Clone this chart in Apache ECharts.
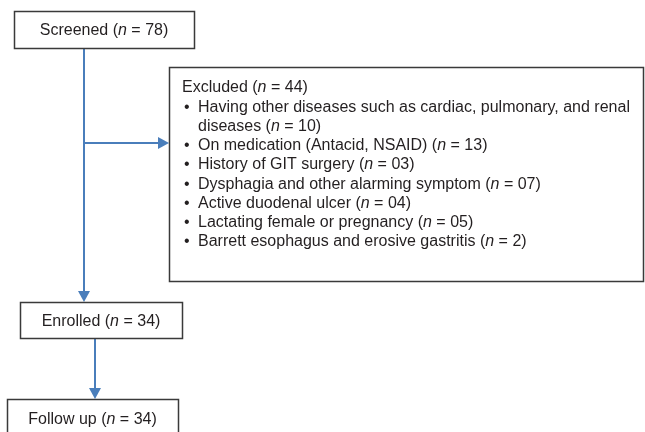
<!DOCTYPE html>
<html lang="en">
<head>
    <meta charset="UTF-8">
    <title>Flow diagram</title>
    <script src="https://cdn.jsdelivr.net/npm/echarts@6/dist/echarts.min.js"></script>
    <style>
        html, body { margin: 0; padding: 0; background: #fff; }
        #main { width: 645px; height: 432px; }
    </style>
</head>
<body>
<div id="main"></div>
<script>
    // flow stages and their counts
    var stages = ['Screened', 'Enrolled', 'Follow up'];
    var stageCounts = ['78', '34', '34'];

    // exclusion box
    var excludedTitle = 'Excluded';
    var excludedCount = '44';
    var reasons = [
        'Having other diseases such as cardiac, pulmonary, and renal\ndiseases',
        'On medication (Antacid, NSAID)',
        'History of GIT surgery',
        'Dysphagia and other alarming symptom',
        'Active duodenal ulcer',
        'Lactating female or pregnancy',
        'Barrett esophagus and erosive gastritis'
    ];
    var reasonCounts = ['10', '13', '03', '07', '04', '05', '2'];

    // layout (pixels)
    var stageBoxes = [
        {x: 14, y: 11, w: 180, h: 37},
        {x: 20, y: 302, w: 162, h: 36},
        {x: 7, y: 399, w: 171, h: 40}
    ];
    var exBox = {x: 169, y: 67, w: 474, h: 214};
    var lineH = 19.25;
    var fontSize = 16;
    var textColor = '#231f20';
    var boxColor = '#3a3a3a';
    var arrowColor = '#4a7ebb';
    var fontFamily = 'Liberation Sans, Arial, sans-serif';

    var rich = {
        i: {fontStyle: 'italic', fontSize: fontSize, fontFamily: fontFamily, fill: textColor, lineHeight: lineH}
    };

    function countText(label, n) {
        return label + ' ({i|n} = ' + n + ')';
    }

    function box(b) {
        return {
            type: 'rect',
            shape: {x: b.x + 0.5, y: b.y + 0.5, width: b.w, height: b.h},
            style: {fill: '#fff', stroke: boxColor, lineWidth: 1.5}
        };
    }

    function line(x1, y1, x2, y2) {
        return {
            type: 'line',
            shape: {x1: x1, y1: y1, x2: x2, y2: y2},
            style: {stroke: arrowColor, lineWidth: 2}
        };
    }

    // arrow head, tip at (x, y) pointing 'down' or 'right'
    function head(x, y, dir) {
        var pts = dir === 'down'
            ? [[x - 6, y - 11], [x + 6, y - 11], [x, y]]
            : [[x - 11, y - 6], [x - 11, y + 6], [x, y]];
        return {type: 'polygon', shape: {points: pts}, style: {fill: arrowColor}};
    }

    function txt(x, y, text, align, vAlign) {
        return {
            type: 'text',
            x: x,
            y: y,
            style: {
                text: text,
                rich: rich,
                font: fontSize + 'px ' + fontFamily,
                fill: textColor,
                align: align || 'left',
                verticalAlign: vAlign || 'middle',
                lineHeight: lineH
            }
        };
    }

    var els = [];

    // connectors first, boxes on top
    var sx = 84;
    els.push(line(sx, 48, sx, 292));
    els.push(head(sx, 302, 'down'));
    els.push(line(sx, 143, exBox.x - 9, 143));
    els.push(head(exBox.x, 143, 'right'));
    els.push(line(95, 338, 95, 389));
    els.push(head(95, 399, 'down'));

    stageBoxes.forEach(function (b) {
        els.push(box(b));
    });
    els.push(box(exBox));

    var stageTextY = [31, 322, 420];
    stages.forEach(function (s, i) {
        var b = stageBoxes[i];
        els.push(txt(b.x + b.w / 2, stageTextY[i], countText(s, stageCounts[i]), 'center'));
    });

    // exclusion list
    var ty = 88;
    els.push(txt(182, ty, countText(excludedTitle, excludedCount)));
    reasons.forEach(function (r, i) {
        ty += lineH;
        var parts = r.split('\n');
        els.push(txt(184, ty, '•'));
        var full = parts.slice(0, -1).concat([countText(parts[parts.length - 1], reasonCounts[i])]);
        full.forEach(function (p, k) {
            if (k > 0) ty += lineH;
            els.push(txt(198, ty, p));
        });
    });

    var chart = echarts.init(document.getElementById('main'));
    chart.setOption({
        backgroundColor: '#fff',
        animation: false,
        graphic: {elements: els}
    });
</script>
</body>
</html>
